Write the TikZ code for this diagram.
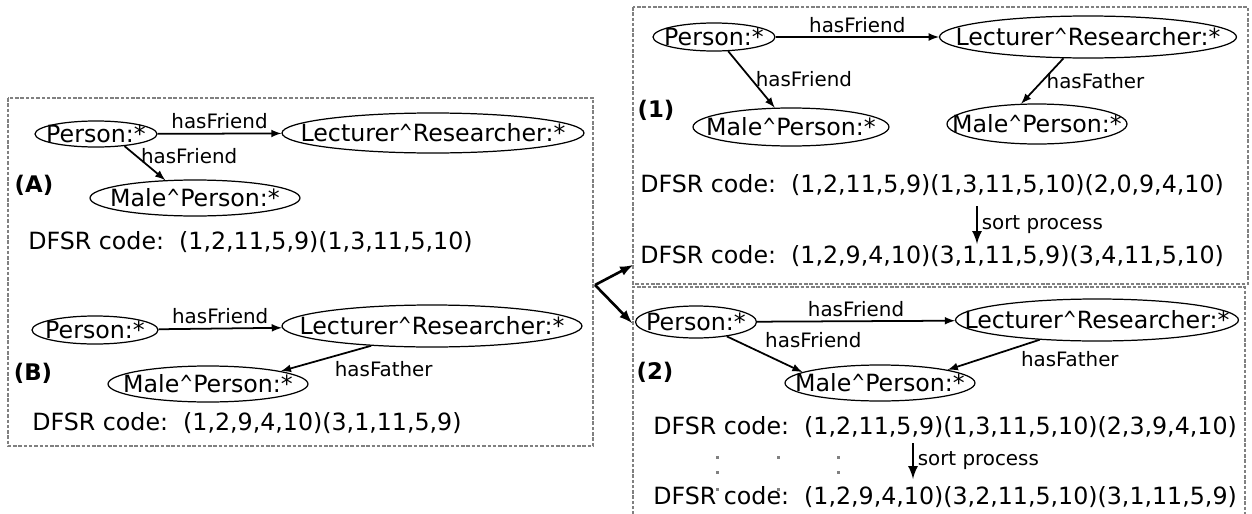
\documentclass[tikz,border=0pt]{standalone}
\usepackage{fontspec}
\setmainfont{DejaVu Sans}
\usetikzlibrary{shapes.geometric}
\newcommand{\ctext}[1]{\makebox[0pt]{#1}}
\newcommand{\caret}{\scalebox{0.7}[1]{\textasciicircum}}

\begin{document}
\begin{tikzpicture}[x=0.02cm,y=-0.02cm,
	concept/.style={ellipse,draw,inner sep=0pt,line width=0.7pt,font=\fontsize{13.5}{16}\selectfont},
	edgelbl/.style={font=\fontsize{11.3}{13}\selectfont,inner sep=2pt},
	dfsr/.style={anchor=west,inner sep=0pt,font=\fontsize{13.5}{16}\selectfont},
	paneltag/.style={font=\bfseries\fontsize{13}{15}\selectfont,inner sep=0pt},
	panel/.style={draw=gray,dash pattern=on 2pt off 1pt,line width=0.6pt},
	rel/.style={-latex,line width=1pt}]
	\useasboundingbox (0,0) rectangle (1252,514);
	
	% left panel: (A) and (B)
	\draw[panel] (8,98) rectangle (593,446);
	\node[concept,minimum width=2.44cm,minimum height=0.52cm](personA) at (96,134){\ctext{Person:*}};
	\node[concept,minimum width=6.04cm,minimum height=0.8cm](lectA) at (433,133){\ctext{Lecturer\caret Researcher:*}};
	\node[concept,minimum width=4.2cm,minimum height=0.72cm](maleA) at (195,198){\ctext{Male\caret Person:*}};
	\node[paneltag](tagA) at (34,185){(A)};
	\node[dfsr](codeA) at (28,242){DFSR code:\ \ (1,2,11,5,9)(1,3,11,5,10)};
	\draw[rel](personA)--(lectA) node[edgelbl,midway,above](fA1){hasFriend};
	\draw[rel](personA.-23)--(maleA.149) node[edgelbl,pos=0.3,anchor=west](fA2){hasFriend};
	
	\node[concept,minimum width=2.52cm,minimum height=0.56cm](personB) at (95,330){\ctext{Person:*}};
	\node[concept,minimum width=6.0cm,minimum height=0.84cm](lectB) at (432,326){\ctext{Lecturer\caret Researcher:*}};
	\node[concept,minimum width=4.0cm,minimum height=0.72cm](maleB) at (208,384){\ctext{Male\caret Person:*}};
	\node[paneltag](tagB) at (33,373){(B)};
	\node[dfsr](codeB) at (32,423){DFSR code:\ \ (1,2,9,4,10)(3,1,11,5,9)};
	\draw[rel](personB)--(lectB) node[edgelbl,midway,above](fB1){hasFriend};
	\draw[rel](lectB.198)--(maleB.10) node[edgelbl,pos=0.45,anchor=north west](fB2){hasFather};
	
	% arrows to the two cases
	\coordinate (fork) at (595,285);
	\coordinate (toOne) at (633,265);
	\coordinate (toTwo) at (632,323);
	\draw[-latex,line width=1.5pt](fork)--(toOne);
	\draw[-latex,line width=1.5pt](fork)--(toTwo);
	
	% case (1)
	\draw[panel] (633,7) rectangle (1248,284);
	\node[concept,minimum width=2.44cm,minimum height=0.56cm](person1) at (714,37){\ctext{Person:*}};
	\node[concept,minimum width=5.94cm,minimum height=0.84cm](lect1) at (1088,37){\ctext{Lecturer\caret Researcher:*}};
	\node[concept,minimum width=3.92cm,minimum height=0.76cm](maleL1) at (791,127){\ctext{Male\caret Person:*}};
	\node[concept,minimum width=3.6cm,minimum height=0.8cm](maleR1) at (1037,124){\ctext{Male\caret Person:*}};
	\node[paneltag](tag1) at (656,110){(1)};
	\draw[rel](person1)--(lect1) node[edgelbl,midway,above](f11){hasFriend};
	\draw[rel](person1.-45)--(maleL1.130) node[edgelbl,pos=0.5,anchor=west](f12){hasFriend};
	\draw[rel](lect1.221)--(maleR1.128) node[edgelbl,pos=0.5,anchor=west](f13){hasFather};
	\node[dfsr](code1) at (640,185){DFSR code:\ \ (1,2,11,5,9)(1,3,11,5,10)(2,0,9,4,10)};
	\node[dfsr](sorted1) at (640,256){DFSR code:\ \ (1,2,9,4,10)(3,1,11,5,9)(3,4,11,5,10)};
	\coordinate (sortTop1) at (977,206);
	\coordinate (sortBot1) at (977,244);
	\draw[-latex,line width=1.5pt](sortTop1)--(sortBot1) node[edgelbl,midway,anchor=west](s1){sort process};
	
	% case (2)
	\draw[panel] (633,520) -- (633,287) -- (1245,287) -- (1245,520);
	\node[concept,minimum width=2.42cm,minimum height=0.64cm](person2) at (696,322){\ctext{Person:*}};
	\node[concept,minimum width=5.66cm,minimum height=0.84cm](lect2) at (1097,320){\ctext{Lecturer\caret Researcher:*}};
	\node[concept,minimum width=3.8cm,minimum height=0.72cm](male2) at (880,383){\ctext{Male\caret Person:*}};
	\node[paneltag](tag2) at (655,372){(2)};
	\draw[rel](person2)--(lect2) node[edgelbl,midway,above](f21){hasFriend};
	\draw[rel](person2.-25)--(male2.172) node[edgelbl,pos=0.45,anchor=south west](f22){hasFriend};
	\draw[rel](lect2.199)--(male2.11) node[edgelbl,pos=0.25,anchor=north west](f23){hasFather};
	\node[dfsr](code2) at (653,427){DFSR code:\ \ (1,2,11,5,9)(1,3,11,5,10)(2,3,9,4,10)};
	\node[dfsr](sorted2) at (653,497){DFSR code:\ \ (1,2,9,4,10)(3,2,11,5,10)(3,1,11,5,9)};
	\coordinate (sortTop2) at (913,443);
	\coordinate (sortBot2) at (913,479);
	\draw[-latex,line width=1.5pt](sortTop2)--(sortBot2) node[edgelbl,midway,anchor=west](s2){sort process};
	\foreach \dx/\dy in {717/457,717/472,717/489,778/457,778/489,838/457,838/472}
		\fill[gray] (\dx-1.5,\dy-1.5) rectangle +(3,3);
	
\end{tikzpicture}
\end{document}
